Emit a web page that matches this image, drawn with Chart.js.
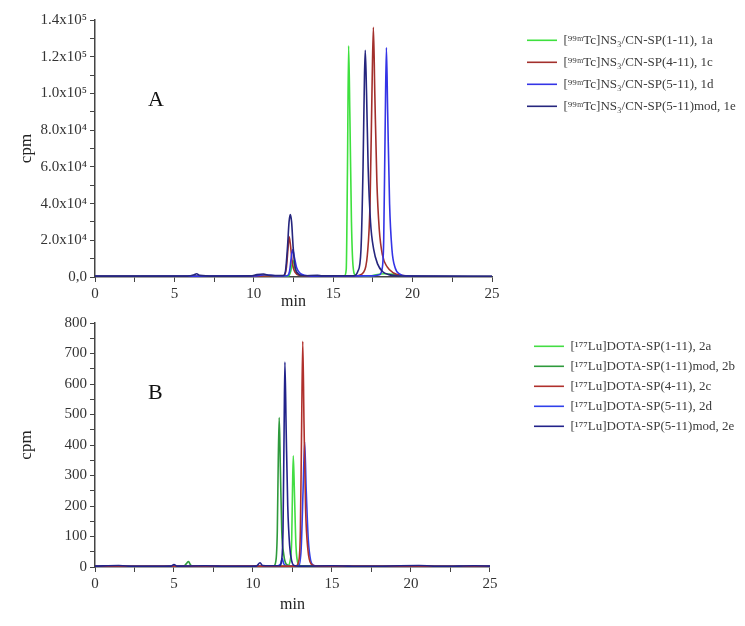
<!DOCTYPE html>
<html>
<head>
<meta charset="utf-8">
<script src="https://cdn.jsdelivr.net/npm/chart.js@4.4.1/dist/chart.umd.min.js"></script>
<style>
  body { margin: 0; background: #fff; }
  #wrap { position: relative; width: 745px; height: 626px; }
  .box { position: absolute; left: 0; width: 745px; }
</style>
</head>
<body>
<div id="wrap">
  <div class="box" style="top:0;height:311px"><canvas id="chartA"></canvas></div>
  <div class="box" style="top:311px;height:315px"><canvas id="chartB"></canvas></div>
</div>
<script>
// tick labels
var xTickLabels = ['0', '5', '10', '15', '20', '25'];
var yTickLabelsA = ['0,0', '2.0x10⁴', '4.0x10⁴', '6.0x10⁴', '8.0x10⁴', '1.0x10⁵', '1.2x10⁵', '1.4x10⁵'];
var yTickLabelsB = ['0', '100', '200', '300', '400', '500', '600', '700', '800'];

// panel A: [min, cpm]
var namesA = ['[⁹⁹ᵐTc]NS₃/CN-SP(1-11), 1a', '[⁹⁹ᵐTc]NS₃/CN-SP(4-11), 1c',
              '[⁹⁹ᵐTc]NS₃/CN-SP(5-11), 1d', '[⁹⁹ᵐTc]NS₃/CN-SP(5-11)mod, 1e'];
var trace1a = [[0,400],[5,400],[10,500],[12.2,600],[12.35,4000],[12.47,9000],[12.6,4500],[12.8,1200],[13.5,500],
               [15.7,500],[15.82,4000],[15.9,60000],[15.97,126000],[16.05,88000],[16.15,30000],[16.25,6000],
               [16.4,1000],[17.2,500],[18.2,1800],[18.8,1500],[19.3,600],[20,400],[25,300]];
var trace1c = [[0,400],[6,400],[10,500],[11.9,700],[12.05,5000],[12.15,15000],[12.22,22000],[12.3,18000],
               [12.42,8000],[12.6,2500],[12.9,900],[13.5,500],[16.4,600],[16.9,2500],[17.15,12000],[17.32,40000],
               [17.44,100000],[17.53,136000],[17.62,100000],[17.75,52000],[17.9,26000],[18.1,12000],
               [18.4,5500],[18.8,2200],[19.3,900],[20,400],[25,300]];
var trace1d = [[0,400],[6,500],[10,600],[10.7,1200],[11.5,600],[12.1,700],[12.25,3000],[12.35,10000],
               [12.45,15000],[12.55,11000],[12.7,5000],[12.9,2200],[13.2,900],[13.6,500],[17.5,600],
               [17.9,1200],[18.07,4000],[18.18,20000],[18.27,80000],[18.35,125000],[18.43,90000],
               [18.55,40000],[18.7,15000],[18.9,5000],[19.2,1600],[19.6,600],[21,400],[25,300]];
var trace1e = [[0,500],[5.8,500],[6.25,1200],[6.4,1800],[6.6,900],[7.5,500],[9.8,600],[10.2,1300],
               [10.6,1600],[11,900],[11.85,800],[12.0,3500],[12.12,16000],[12.22,30000],[12.3,34000],
               [12.38,30000],[12.48,16000],[12.6,5500],[12.8,1800],[13.1,700],[14,900],[14.3,600],
               [16.3,700],[16.55,3000],[16.75,15000],[16.88,60000],[16.97,110000],[17.02,123500],
               [17.1,100000],[17.2,60000],[17.35,30000],[17.55,15000],[17.8,7000],[18.1,3000],
               [18.5,1300],[19,700],[20,500],[25,400]];

// panel B: [min, cpm]
var namesB = ['[¹⁷⁷Lu]DOTA-SP(1-11), 2a', '[¹⁷⁷Lu]DOTA-SP(1-11)mod, 2b', '[¹⁷⁷Lu]DOTA-SP(4-11), 2c',
              '[¹⁷⁷Lu]DOTA-SP(5-11), 2d', '[¹⁷⁷Lu]DOTA-SP(5-11)mod, 2e'];
var trace2a = [[0,2],[6,2],[11,3],[12.2,4],[12.35,20],[12.45,90],[12.5,250],[12.55,365],[12.62,250],
               [12.72,70],[12.85,12],[13.1,3],[20,2],[25,2]];
var trace2b = [[0,2],[5.6,2],[5.8,12],[5.92,18],[6.05,6],[6.3,2],[11.3,3],[11.45,20],[11.54,120],
               [11.6,350],[11.66,490],[11.73,330],[11.82,120],[11.95,40],[12.1,10],[12.4,3],[25,2]];
var trace2c = [[0,2],[12.7,3],[12.9,20],[13.0,120],[13.07,420],[13.15,740],[13.23,470],[13.33,190],
               [13.48,55],[13.68,10],[14,3],[25,2]];
var trace2d = [[0,2],[11.5,3],[11.75,10],[11.85,28],[11.95,10],[12.2,3],[12.9,5],[13.05,60],[13.17,250],
               [13.27,410],[13.37,250],[13.5,90],[13.65,22],[13.85,5],[14.2,2],[25,2]];
var trace2e = [[0,3],[1.5,5],[2.5,2],[4.8,3],[5.0,8],[5.2,3],[7,4],[8.5,2],[10.2,3],[10.45,14],[10.6,5],
               [11.7,4],[11.82,25],[11.9,120],[11.97,450],[12.02,672],[12.1,450],[12.2,200],[12.32,70],
               [12.45,20],[12.6,5],[13,3],[15,4],[17,2],[20.5,5],[22,2],[24,4],[25,3]];

var fontFamily = '"Liberation Serif", "Times New Roman", serif';

function toXY(trace) {
  return trace.map(function (p) { return { x: p[0], y: p[1] }; });
}

var panelLetter = {
  id: 'panelLetter',
  afterDraw: function (chart, args, opts) {
    var ctx = chart.ctx, area = chart.chartArea;
    ctx.save();
    ctx.font = '22px ' + fontFamily;
    ctx.fillStyle = '#111';
    ctx.textBaseline = 'middle';
    ctx.fillText(opts.text, area.left + opts.dx, area.top + opts.dy);
    ctx.restore();
  }
};

// p: per-panel layout settings
function makeChart(id, names, traces, colors, orders, yMax, yStep, yLabels, p) {
  var datasets = traces.map(function (t, i) {
    return {
      label: names[i],
      data: toXY(t),
      borderColor: colors[i],
      backgroundColor: colors[i],
      borderWidth: 1.6,
      pointRadius: 0,
      cubicInterpolationMode: 'monotone',
      order: orders[i]
    };
  });
  return new Chart(document.getElementById(id), {
    type: 'line',
    data: { datasets: datasets },
    options: {
      responsive: true,
      maintainAspectRatio: false,
      animation: false,
      layout: { padding: { top: p.top, right: 0, bottom: p.bottom, left: 0 } },
      scales: {
        x: {
          type: 'linear', min: 0, max: 25,
          afterFit: function (s) { s.height = p.xHeight; },
          border: { color: '#444', width: 1.5 },
          grid: { drawOnChartArea: false, tickLength: 5, color: '#444' },
          ticks: {
            stepSize: 2.5, autoSkip: false, maxRotation: 0, color: '#333',
            font: { family: fontFamily, size: 15 },
            callback: function (v) { return v % 5 === 0 ? xTickLabels[v / 5] : ''; }
          },
          title: { display: true, text: 'min', color: '#222', font: { family: fontFamily, size: 16 }, padding: { top: 0, bottom: 0 } }
        },
        y: {
          min: 0, max: yMax,
          afterFit: function (s) { s.width = 95; },
          border: { color: '#444', width: 1.5 },
          grid: { drawOnChartArea: false, tickLength: 5, color: '#444' },
          ticks: {
            stepSize: yStep, autoSkip: false, color: '#333',
            font: { family: fontFamily, size: 15 },
            callback: function (v) {
              var k = Math.round(v / (2 * yStep));
              return Math.abs(v - k * 2 * yStep) < 1e-6 ? yLabels[k] : '';
            }
          },
          title: { display: true, text: 'cpm', color: '#222', font: { family: fontFamily, size: 17 }, padding: { top: 16, bottom: 0 } }
        },
        // empty spacer between plot and legend
        gap: {
          type: 'linear', position: 'right', display: true,
          afterFit: function (s) { s.width = p.gap; },
          border: { display: false },
          grid: { display: false, drawTicks: false },
          ticks: { display: false }
        }
      },
      plugins: {
        legend: {
          position: 'right',
          align: 'start',
          maxWidth: p.legendWidth,
          title: { display: true, text: ' ', font: { size: 4 }, padding: p.legendTitlePad },
          labels: {
            sort: function (a, b) { return a.datasetIndex - b.datasetIndex; },
            usePointStyle: true, pointStyle: 'line', pointStyleWidth: 30, boxHeight: 12,
            padding: p.legendPad, color: '#3a3a3a',
            font: { family: fontFamily, size: 13 }
          }
        },
        tooltip: { enabled: false },
        panelLetter: { text: p.letter, dx: 53, dy: p.letterDy }
      }
    },
    plugins: [panelLetter]
  });
}

makeChart('chartA', namesA, [trace1a, trace1c, trace1d, trace1e],
  ['#3ee03e', '#a3302c', '#3434e6', '#26267e'], [3, 2, 1, 0],
  140000, 10000, yTickLabelsA,
  { top: 20, bottom: 0, xHeight: 34, gap: 26, legendWidth: 227, legendPad: 9, legendTitlePad: 0, letter: 'A', letterDy: 80 });

makeChart('chartB', namesB, [trace2a, trace2b, trace2c, trace2d, trace2e],
  ['#44dd44', '#2e9a3c', '#b0302c', '#3040ea', '#22228a'], [4, 3, 1, 2, 0],
  800, 50, yTickLabelsB,
  { top: 9, bottom: 12, xHeight: 47, gap: 37, legendWidth: 228, legendPad: 7, legendTitlePad: 4, letter: 'B', letterDy: 70 });
</script>
</body>
</html>
